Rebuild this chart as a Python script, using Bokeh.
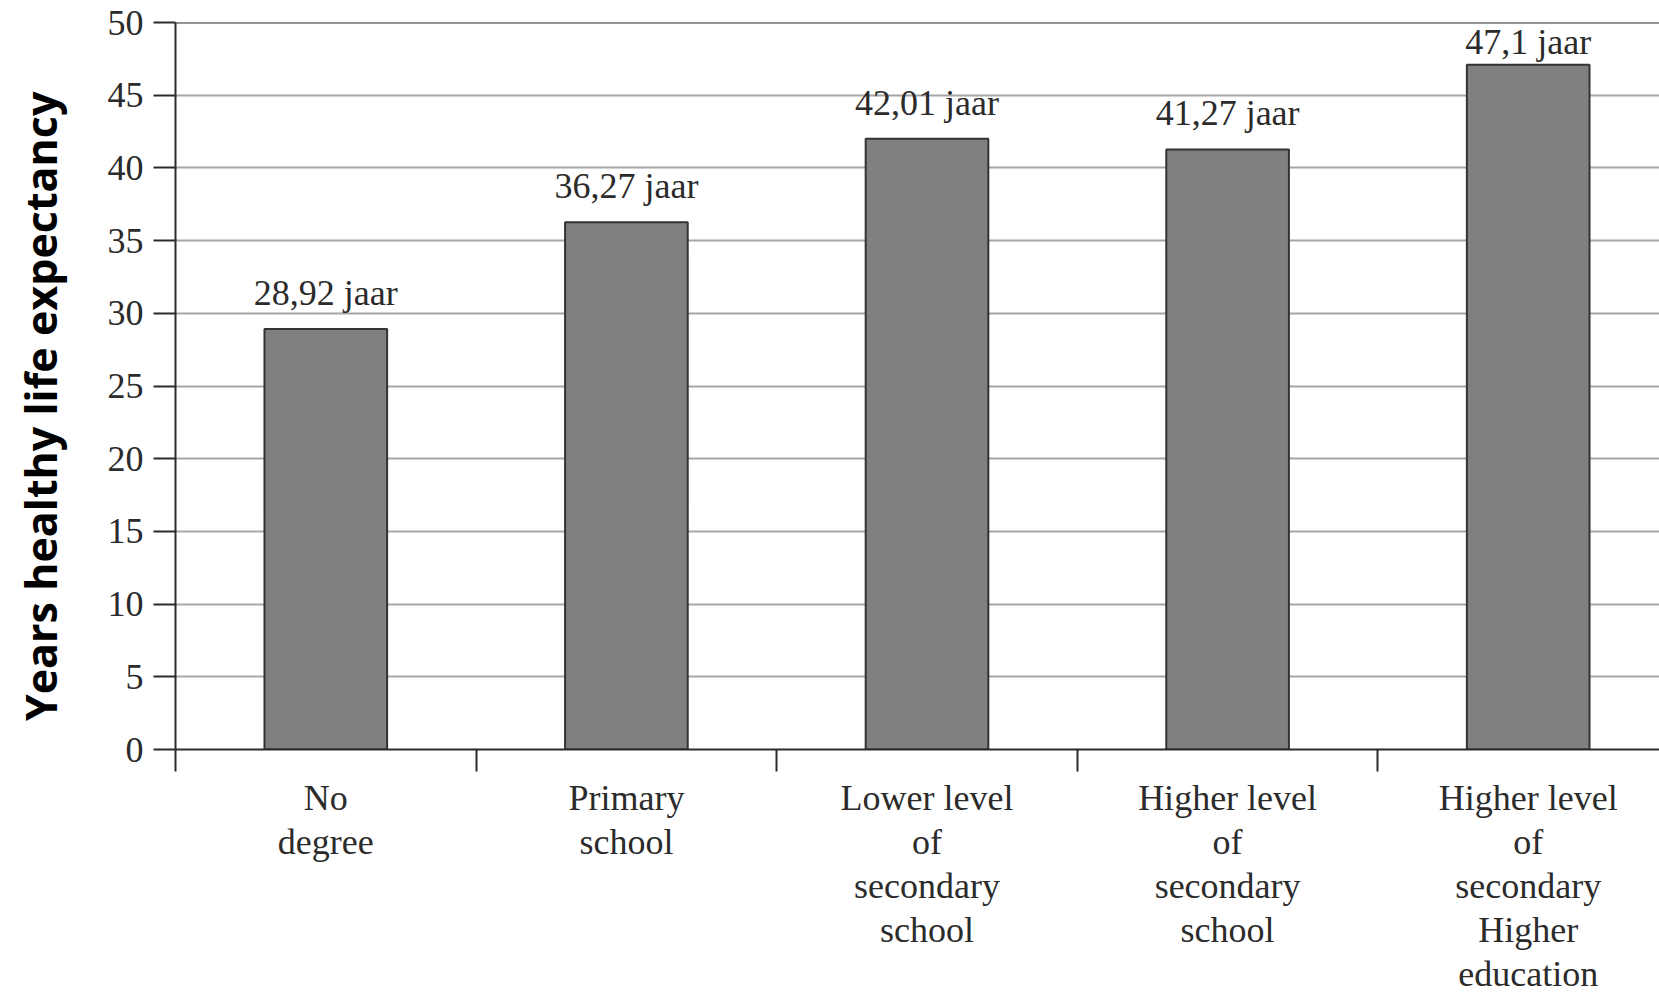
import math

from bokeh.plotting import figure
from bokeh.layouts import row
from bokeh.models import Range1d, FixedTicker, Span, ColumnDataSource
from bokeh.core.properties import value
from bokeh.embed import file_html
from bokeh.resources import INLINE

# Healthy life expectancy by level of education
categories = [
    "No\ndegree",
    "Primary\nschool",
    "Lower level\nof\nsecondary\nschool",
    "Higher level\nof\nsecondary\nschool",
    "Higher level\nof\nsecondary\nHigher\neducation",
]
years = [28.92, 36.27, 42.01, 41.27, 47.1]
year_labels = ["28,92 jaar", "36,27 jaar", "42,01 jaar", "41,27 jaar", "47,1 jaar"]
y_ticks = [0, 5, 10, 15, 20, 25, 30, 35, 40, 45, 50]
y_title = "Years healthy life expectancy"

SERIF = "Liberation Serif"
INK = "#2b2b2b"
Y_MAX = 50
TITLE_W = 80          # width of the strip holding the vertical axis title
HEIGHT = 996
BORDER_TOP, BORDER_BOTTOM = 22, 246

positions = list(range(1, len(categories) + 1))
# value labels sit just above each bar, but never rise past the top of the plot
label_y = [min(v, Y_MAX - 3.8) for v in years]
src = ColumnDataSource(dict(x=positions, top=years, label=year_labels, label_y=label_y))

y_range = Range1d(0, Y_MAX)

p = figure(
    width=1659 - TITLE_W, height=HEIGHT,
    x_range=Range1d(0.5, 0.5 + 1484 / 300.6),
    y_range=y_range,
    output_backend="svg", toolbar_location=None,
    min_border_left=175 - TITLE_W, min_border_right=0,
    min_border_top=BORDER_TOP, min_border_bottom=BORDER_BOTTOM,
)
p.outline_line_color = None
p.background_fill_color = "white"
p.border_fill_color = "white"

# horizontal grid
p.xgrid.grid_line_color = None
p.ygrid.ticker = FixedTicker(ticks=y_ticks)
p.ygrid.grid_line_color = "#a6a6a6"
p.ygrid.grid_line_width = 2

# top frame line
p.add_layout(Span(location=Y_MAX, dimension="width", line_color=INK, line_width=2))

# bars
p.vbar(x="x", top="top", bottom=0, width=0.408, source=src,
       fill_color="#808080", line_color="#333333", line_width=2)

# value labels above bars
p.text(x="x", y="label_y", text="label", source=src,
       text_font=value(SERIF), text_font_size="36px", text_color=INK,
       text_align="center", text_baseline="alphabetic", y_offset=-36)

# y axis
ya = p.yaxis[0]
ya.ticker = FixedTicker(ticks=y_ticks)
ya.axis_line_color = INK
ya.axis_line_width = 2
ya.major_tick_line_color = INK
ya.major_tick_line_width = 2
ya.major_tick_out = 22
ya.major_tick_in = 0
ya.minor_tick_line_color = None
ya.major_label_standoff = 10
ya.major_label_text_font = SERIF
ya.major_label_text_font_size = "36px"
ya.major_label_text_color = INK

# x axis: labels at category centres, tick marks at category boundaries
xa = p.xaxis[0]
xa.ticker = FixedTicker(ticks=positions, minor_ticks=[0.5 + i for i in range(len(categories))])
xa.major_label_overrides = {pos: lab for pos, lab in zip(positions, categories)}
xa.axis_line_color = INK
xa.axis_line_width = 2
xa.major_tick_line_color = None
xa.major_tick_out = 0
xa.major_tick_in = 0
xa.minor_tick_line_color = INK
xa.minor_tick_line_width = 2
xa.minor_tick_out = 22
xa.minor_tick_in = 0
xa.major_label_standoff = 6
xa.major_label_text_font = SERIF
xa.major_label_text_font_size = "36px"
xa.major_label_text_color = INK
xa.major_label_text_line_height = 1.10

# narrow strip on the left carrying the rotated y-axis title
t = figure(
    width=TITLE_W, height=HEIGHT,
    x_range=Range1d(0, 1), y_range=y_range,
    output_backend="svg", toolbar_location=None,
    min_border_left=0, min_border_right=0,
    min_border_top=BORDER_TOP, min_border_bottom=BORDER_BOTTOM,
)
t.axis.visible = False
t.grid.visible = False
t.outline_line_color = None
t.border_fill_color = "white"
t.text(x=[0.5], y=[23.6], text=[y_title], angle=math.pi / 2,
       text_font=value("Open Sans"), text_font_style="bold", text_font_size="43px",
       text_color="black", text_align="center", text_baseline="middle")

layout = row(t, p, spacing=0)
open("out.html", "w").write(file_html(layout, INLINE))
